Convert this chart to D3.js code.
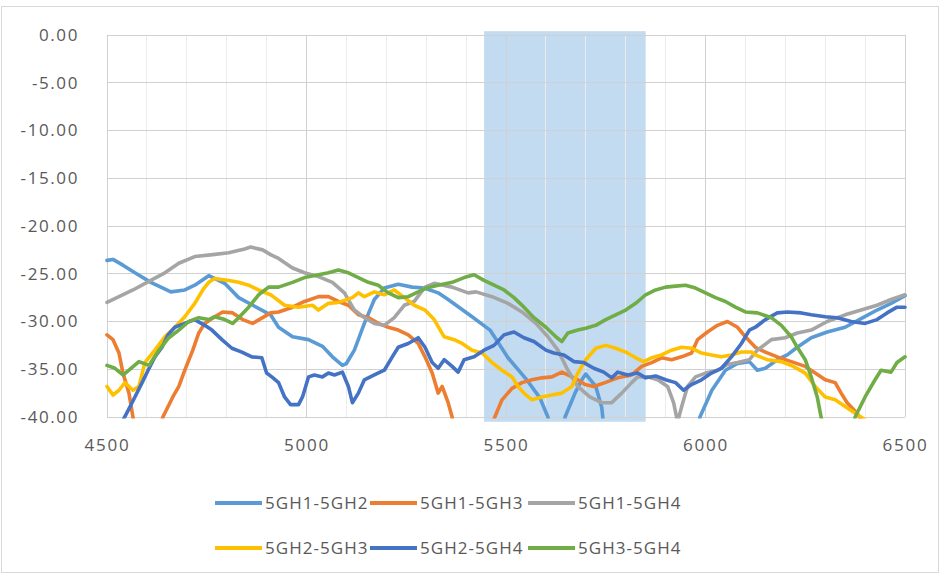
<!DOCTYPE html>
<html><head><meta charset="utf-8">
<script src="https://cdn.jsdelivr.net/npm/d3@7"></script>
<style>
html,body{margin:0;padding:0;background:#fff;}
svg{display:block;font-family:"Open Sans",sans-serif;}
</style></head><body>
<svg id="c" width="941" height="578"></svg>
<script>
// ---- data ----
const seriesNames = ["5GH1-5GH2","5GH1-5GH3","5GH1-5GH4","5GH2-5GH3","5GH2-5GH4","5GH3-5GH4"];
const seriesColors = ["#5B9BD5","#ED7D31","#A5A5A5","#FFC000","#4472C4","#70AD47"];
const xTicks = [4500,5000,5500,6000,6500];
const yTicks = [0,-5,-10,-15,-20,-25,-30,-35,-40];
const bandRange = [5445, 5850];

const s_5GH1_5GH2 = [[4500,-23.6],[4515,-23.5],[4540,-24.1],[4570,-24.9],[4610,-25.9],[4660,-26.9],[4695,-26.7],[4720,-26.2],[4755,-25.2],[4795,-26],[4830,-27.5],[4870,-28.4],[4910,-29.3],[4930,-30.6],[4965,-31.6],[5005,-31.9],[5040,-32.6],[5065,-33.7],[5090,-34.6],[5100,-34.4],[5120,-33],[5145,-30.2],[5170,-27.7],[5195,-26.5],[5230,-26.1],[5265,-26.4],[5295,-26.5],[5330,-27],[5355,-27.7],[5415,-29.5],[5460,-30.9],[5505,-33.8],[5550,-36],[5585,-38],[5605,-40],[5620,-43],[5640,-43],[5648,-40],[5673,-37.5],[5690,-36.1],[5700,-35.5],[5725,-36.8],[5740,-39],[5750,-43],[5975,-43],[5986,-40],[6016,-37.2],[6050,-35.1],[6080,-34.4],[6110,-34.2],[6130,-35.1],[6150,-34.9],[6180,-34],[6205,-33.5],[6230,-32.7],[6265,-31.7],[6305,-31.1],[6350,-30.6],[6390,-29.7],[6430,-28.8],[6465,-28.1],[6500,-27.3]];
const s_5GH1_5GH3 = [[4500,-31.4],[4515,-31.9],[4530,-33.3],[4540,-35.4],[4555,-37.5],[4565,-40],[4575,-43],[4625,-43],[4640,-40],[4665,-37.9],[4680,-36.8],[4695,-35.1],[4715,-33],[4730,-31.2],[4745,-30.2],[4770,-29.5],[4790,-29],[4815,-29.1],[4840,-29.8],[4865,-30.2],[4890,-29.6],[4910,-29.1],[4930,-29],[4965,-28.5],[4995,-27.9],[5030,-27.4],[5055,-27.4],[5080,-27.9],[5105,-28.3],[5130,-29.3],[5155,-29.6],[5180,-30.2],[5205,-30.6],[5230,-30.9],[5255,-31.4],[5280,-32.3],[5297,-33.7],[5315,-35.4],[5330,-37.5],[5340,-36.8],[5355,-38.5],[5365,-40],[5375,-43],[5460,-43],[5467,-40.5],[5490,-38.2],[5515,-37],[5540,-36.4],[5565,-36.1],[5590,-35.9],[5615,-35.8],[5640,-35.3],[5655,-35.6],[5680,-36.1],[5698,-36.6],[5720,-36.8],[5748,-36.4],[5780,-35.9],[5815,-35.6],[5840,-34.7],[5865,-34.3],[5890,-33.8],[5915,-34],[5940,-33.7],[5965,-33.3],[5980,-31.9],[6005,-31.1],[6030,-30.4],[6055,-30],[6080,-30.6],[6100,-31.6],[6125,-32.7],[6150,-33.2],[6180,-33.7],[6215,-34.2],[6250,-34.7],[6275,-35.4],[6300,-36.1],[6325,-36.4],[6340,-37.5],[6355,-38.5],[6380,-39.6],[6400,-41],[6420,-43],[6500,-43]];
const s_5GH1_5GH4 = [[4500,-28],[4530,-27.4],[4565,-26.7],[4605,-25.8],[4645,-24.9],[4680,-23.9],[4720,-23.2],[4765,-23],[4805,-22.8],[4845,-22.4],[4860,-22.2],[4890,-22.5],[4910,-23],[4930,-23.4],[4965,-24.4],[4995,-24.9],[5030,-25.3],[5065,-25.9],[5095,-27],[5120,-28.8],[5145,-29.6],[5170,-30.2],[5195,-30.4],[5220,-29.6],[5245,-28.3],[5270,-27.9],[5297,-26.4],[5320,-26],[5365,-26.4],[5405,-27],[5425,-26.9],[5465,-27.4],[5505,-28.1],[5540,-29],[5575,-30.2],[5605,-31.6],[5630,-33],[5655,-35.1],[5680,-36.8],[5710,-37.9],[5740,-38.5],[5765,-38.5],[5790,-37.5],[5815,-36.4],[5830,-35.8],[5855,-35.8],[5880,-36.1],[5905,-36.8],[5920,-38.5],[5930,-40.5],[5943,-38.5],[5955,-36.8],[5975,-35.8],[6000,-35.4],[6030,-35.1],[6055,-34.5],[6080,-34.3],[6110,-34],[6130,-33],[6165,-31.9],[6200,-31.7],[6230,-31.2],[6265,-30.9],[6305,-30],[6350,-29.3],[6390,-28.8],[6430,-28.3],[6465,-27.7],[6500,-27.2]];
const s_5GH2_5GH3 = [[4500,-36.8],[4515,-37.7],[4530,-37.2],[4545,-36.4],[4565,-37.2],[4580,-36.8],[4595,-34.3],[4620,-33],[4645,-31.6],[4670,-30.6],[4695,-29.5],[4720,-28.1],[4740,-26.7],[4755,-25.9],[4770,-25.5],[4805,-25.7],[4830,-25.9],[4855,-26.2],[4880,-26.7],[4910,-27.2],[4920,-27.5],[4945,-28.3],[4980,-28.5],[5015,-28.3],[5030,-28.8],[5055,-28.1],[5080,-28],[5115,-27.5],[5130,-27],[5145,-27.4],[5170,-26.9],[5195,-27.2],[5220,-26.7],[5245,-27.5],[5270,-28.3],[5297,-28.8],[5320,-29.8],[5345,-31.6],[5370,-31.9],[5390,-32.3],[5415,-33],[5440,-33.3],[5465,-34.3],[5490,-35.1],[5515,-35.8],[5530,-36.8],[5545,-37.5],[5565,-38.2],[5590,-37.9],[5615,-37.7],[5640,-37.5],[5665,-36.8],[5680,-35.4],[5700,-34],[5725,-32.8],[5750,-32.5],[5775,-32.8],[5800,-33.2],[5825,-33.8],[5845,-34.2],[5865,-33.8],[5890,-33.5],[5915,-33],[5940,-32.7],[5965,-32.8],[5990,-33.3],[6015,-33.5],[6040,-33.7],[6065,-33.5],[6090,-33.2],[6115,-33.2],[6125,-33.5],[6155,-34],[6190,-34.2],[6220,-34.7],[6250,-35.4],[6275,-36.8],[6300,-37.9],[6325,-38.2],[6350,-38.9],[6375,-39.6],[6400,-40.3],[6420,-42],[6500,-42]];
const s_5GH2_5GH4 = [[4500,-43],[4530,-42],[4538,-40.5],[4553,-39.3],[4570,-37.9],[4588,-36.4],[4603,-35.1],[4620,-33.7],[4638,-32.7],[4653,-31.4],[4670,-30.6],[4695,-30.2],[4720,-29.8],[4745,-30.4],[4763,-30.9],[4788,-31.9],[4813,-32.8],[4838,-33.2],[4863,-33.7],[4888,-33.8],[4900,-35.4],[4913,-35.8],[4930,-36.4],[4945,-37.9],[4960,-38.7],[4980,-38.7],[4990,-37.9],[5005,-35.8],[5020,-35.6],[5040,-35.8],[5055,-35.4],[5070,-35.6],[5090,-35.3],[5105,-36.8],[5115,-38.5],[5130,-37.5],[5145,-36.1],[5170,-35.6],[5195,-35.1],[5215,-33.7],[5230,-32.7],[5255,-32.3],[5280,-31.7],[5297,-32.7],[5315,-34.3],[5330,-34.9],[5345,-34],[5365,-34.7],[5380,-35.3],[5395,-34],[5420,-33.7],[5445,-33],[5470,-32.5],[5495,-31.4],[5520,-31.1],[5545,-31.7],[5570,-32.1],[5600,-33],[5620,-33.3],[5645,-33.5],[5670,-34.2],[5695,-34.3],[5720,-34.9],[5745,-35.3],[5765,-35.9],[5780,-35.3],[5805,-35.6],[5830,-35.4],[5850,-35.9],[5875,-35.7],[5900,-36.1],[5925,-36.4],[5945,-37.2],[5965,-36.6],[5990,-36.1],[6015,-35.4],[6040,-34.9],[6065,-33.7],[6090,-32.3],[6110,-30.9],[6125,-30.6],[6150,-29.8],[6180,-29.1],[6205,-29],[6240,-29.1],[6265,-29.3],[6300,-29.5],[6330,-29.6],[6365,-30],[6400,-30.2],[6430,-29.8],[6455,-29.1],[6480,-28.5],[6500,-28.5]];
const s_5GH3_5GH4 = [[4500,-34.6],[4520,-34.9],[4540,-35.6],[4555,-35.1],[4580,-34.2],[4605,-34.6],[4630,-33],[4655,-31.7],[4680,-30.9],[4705,-30],[4730,-29.6],[4755,-29.8],[4770,-29.5],[4795,-29.8],[4815,-30.2],[4830,-29.6],[4855,-28.5],[4880,-27.2],[4905,-26.4],[4930,-26.4],[4965,-25.9],[4995,-25.4],[5030,-25.1],[5055,-24.9],[5080,-24.6],[5105,-24.9],[5130,-25.4],[5155,-25.9],[5180,-26.2],[5205,-27],[5230,-27.5],[5255,-27.4],[5280,-26.9],[5300,-26.5],[5330,-26.2],[5365,-25.9],[5395,-25.4],[5420,-25.1],[5445,-25.7],[5470,-26.2],[5495,-26.7],[5520,-27.5],[5545,-28.5],[5570,-29.6],[5600,-30.6],[5625,-31.6],[5640,-32.1],[5655,-31.2],[5680,-30.9],[5700,-30.7],[5725,-30.4],[5750,-29.8],[5775,-29.3],[5800,-28.8],[5825,-28.1],[5850,-27.2],[5875,-26.7],[5900,-26.4],[5925,-26.3],[5950,-26.2],[5975,-26.5],[6000,-27],[6025,-27.5],[6050,-27.9],[6075,-28.5],[6100,-29],[6130,-29.1],[6165,-29.6],[6190,-30.4],[6215,-31.6],[6230,-32.7],[6250,-34],[6265,-35.8],[6280,-37.9],[6292,-40.5],[6300,-43],[6365,-43],[6375,-40],[6400,-37.9],[6425,-36.1],[6440,-35.1],[6465,-35.3],[6480,-34.3],[6500,-33.7]];
const seriesData = [s_5GH1_5GH2, s_5GH1_5GH3, s_5GH1_5GH4, s_5GH2_5GH3, s_5GH2_5GH4, s_5GH3_5GH4];

// ---- layout ----
const svg = d3.select("#c");
const L = 107, R = 905, T = 35, B = 417;
const x = d3.scaleLinear().domain([4500,6500]).range([L,R]);
const y = d3.scaleLinear().domain([-40,0]).range([B,T]);

// chart border
svg.append("rect").attr("x",1.5).attr("y",6.5).attr("width",937).attr("height",566)
  .attr("fill","#fff").attr("stroke","#d9d9d9").attr("stroke-width",1);

// band
svg.append("rect")
  .attr("x", x(bandRange[0])).attr("width", x(bandRange[1]) - x(bandRange[0]))
  .attr("y", y(0.4)).attr("height", y(-40.5) - y(0.4))
  .attr("fill", "#BDD7EE").attr("opacity", 0.9);

// minor vertical grid
const minor = d3.range(4600, 6500, 100).filter(v => v % 500 !== 0);
svg.append("g").selectAll("line").data(minor).join("line")
  .attr("x1", d => x(d)).attr("x2", d => x(d)).attr("y1", T).attr("y2", B)
  .attr("stroke", "#ececec").attr("stroke-width", 1).attr("shape-rendering","crispEdges");
// major vertical grid
svg.append("g").selectAll("line").data(xTicks).join("line")
  .attr("x1", d => x(d)).attr("x2", d => x(d)).attr("y1", T).attr("y2", B)
  .attr("stroke", "#d0d0d0").attr("stroke-width", 1).attr("shape-rendering","crispEdges");
// horizontal grid
svg.append("g").selectAll("line").data(yTicks).join("line")
  .attr("x1", L).attr("x2", R).attr("y1", d => y(d)).attr("y2", d => y(d))
  .attr("stroke", "#d0d0d0").attr("stroke-width", 1).attr("shape-rendering","crispEdges");

// axes (labels only, Excel style)
const yAxis = d3.axisLeft(y).tickValues(yTicks).tickFormat(d => d.toFixed(2)).tickSize(0).tickPadding(28);
const gy = svg.append("g").attr("transform", `translate(${L},0)`).call(yAxis);
gy.select(".domain").remove();
gy.selectAll("text").attr("fill","#595959").style("font-size","17px").style("letter-spacing","1.6px")
  .style("font-family","'Open Sans',sans-serif");

const xAxis = d3.axisBottom(x).tickValues(xTicks).tickFormat(d => String(d)).tickSize(0).tickPadding(22);
const gx = svg.append("g").attr("transform", `translate(0,${B})`).call(xAxis);
gx.select(".domain").remove();
gx.selectAll("text").attr("fill","#595959").style("font-size","17px").style("letter-spacing","1.8px")
  .style("font-family","'Open Sans',sans-serif");

// lines
svg.append("clipPath").attr("id","clip").append("rect")
  .attr("x", L - 2).attr("y", T - 3).attr("width", R - L + 4).attr("height", B - T + 4.5);
const line = d3.line().x(d => x(d[0])).y(d => y(d[1]));
svg.append("g").attr("clip-path","url(#clip)").selectAll("path").data(seriesData).join("path")
  .attr("d", line).attr("fill","none")
  .attr("stroke", (d,i) => seriesColors[i]).attr("stroke-width", 3.6)
  .attr("stroke-linejoin","round").attr("stroke-linecap","round");

// legend
const legCols = [215, 370, 528];
const legRows = [503, 548];
const leg = svg.append("g");
seriesNames.forEach((n, i) => {
  const cx = legCols[i % 3], cy = legRows[Math.floor(i / 3)];
  leg.append("line").attr("x1", cx).attr("x2", cx + 47).attr("y1", cy).attr("y2", cy)
    .attr("stroke", seriesColors[i]).attr("stroke-width", 4);
  leg.append("text").attr("x", cx + 50).attr("y", cy).attr("dy","0.35em")
    .attr("fill","#595959").style("font-size","17px").style("letter-spacing","1.05px")
    .text(n);
});
</script>
</body></html>
